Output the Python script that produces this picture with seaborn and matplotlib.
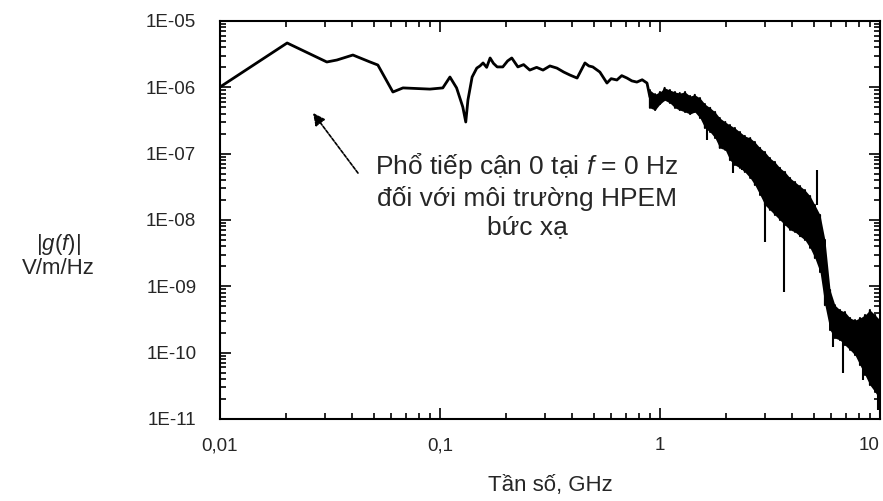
import numpy as np
import pandas as pd
import seaborn as sns
import matplotlib.pyplot as plt
from matplotlib.ticker import LogLocator, FixedLocator, NullFormatter

# smooth part of the spectrum (GHz, V/m/Hz)
smooth_f = [0.010, 0.0202, 0.0306, 0.0340, 0.0402, 0.0481, 0.0522, 0.0611, 0.0679, 0.0900,
            0.103, 0.111, 0.119, 0.127, 0.131, 0.134, 0.140, 0.147, 0.152, 0.157,
            0.163, 0.169, 0.175, 0.182, 0.193, 0.203, 0.212, 0.226, 0.240, 0.256,
            0.275, 0.294, 0.316, 0.340, 0.365, 0.390, 0.420, 0.456, 0.475, 0.495,
            0.533, 0.574, 0.600, 0.637, 0.670, 0.708, 0.745, 0.785, 0.830, 0.873, 0.900]
smooth_mag = [1.01e-6, 4.66e-6, 2.41e-6, 2.58e-6, 3.07e-6, 2.41e-6, 2.17e-6, 8.5e-7, 9.8e-7, 9.4e-7,
              9.8e-7, 1.43e-6, 9.8e-7, 5.05e-7, 3.0e-7, 6.44e-7, 1.43e-6, 1.95e-6, 2.1e-6, 2.33e-6,
              2.0e-6, 2.77e-6, 2.3e-6, 2.03e-6, 2.03e-6, 2.5e-6, 2.77e-6, 2.03e-6, 2.2e-6, 1.82e-6,
              2.0e-6, 1.82e-6, 2.1e-6, 1.95e-6, 1.7e-6, 1.53e-6, 1.38e-6, 2.33e-6, 2.1e-6, 2.03e-6,
              1.70e-6, 1.16e-6, 1.35e-6, 1.29e-6, 1.5e-6, 1.38e-6, 1.25e-6, 1.20e-6, 1.3e-6, 1.16e-6, 7.15e-7]

# noisy part above ~1 GHz: upper / lower edge of the band
noise_f = [0.90, 0.95, 1.00, 1.05, 1.11, 1.17, 1.23, 1.30, 1.37, 1.44,
           1.52, 1.60, 1.69, 1.78, 1.87, 1.98, 2.08, 2.19, 2.31, 2.43,
           2.57, 2.70, 2.85, 3.00, 3.16, 3.33, 3.51, 3.70, 3.90, 4.11,
           4.33, 4.56, 4.81, 5.06, 5.34, 5.62, 5.93, 6.24, 6.58, 6.93,
           7.31, 7.70, 8.11, 8.55, 9.00, 9.50, 10.0]
noise_hi = [9.1e-7, 7.9e-7, 8.5e-7, 9.8e-7, 9.1e-7, 8.5e-7, 8.2e-7, 8.5e-7, 7.4e-7, 7.7e-7,
            6.9e-7, 5.6e-7, 4.9e-7, 4.25e-7, 3.45e-7, 3.0e-7, 2.7e-7, 2.44e-7, 2.12e-7, 1.85e-7,
            1.72e-7, 1.50e-7, 1.22e-7, 1.06e-7, 8.6e-8, 7.5e-8, 6.1e-8, 5.3e-8, 4.3e-8, 3.74e-8,
            3.25e-8, 2.83e-8, 2.30e-8, 1.68e-8, 1.19e-8, 5.0e-9, 8.8e-10, 5.2e-10, 4.4e-10, 4.1e-10,
            3.33e-10, 3.1e-10, 3.33e-10, 3.7e-10, 4.4e-10, 3.7e-10, 3.1e-10]
noise_lo = [4.9e-7, 4.55e-7, 5.6e-7, 6.4e-7, 5.8e-7, 4.9e-7, 4.55e-7, 4.25e-7, 3.96e-7, 4.25e-7,
            3.45e-7, 2.44e-7, 2.12e-7, 1.72e-7, 1.22e-7, 1.14e-7, 8.0e-8, 6.75e-8, 6.1e-8, 5.3e-8,
            4.3e-8, 3.37e-8, 2.38e-8, 1.68e-8, 1.42e-8, 1.19e-8, 1.0e-8, 8.4e-9, 7.1e-9, 6.6e-9,
            5.7e-9, 5.0e-9, 3.8e-9, 2.67e-9, 1.64e-9, 5.2e-10, 2.19e-10, 1.66e-10, 1.55e-10, 1.30e-10,
            1.10e-10, 9.2e-11, 6.5e-11, 4.6e-11, 3.25e-11, 2.55e-11, 1.93e-11]

# single spikes sticking out of the band
spike_f = [1.64, 2.15, 2.36, 3.00, 3.66, 5.17, 6.12, 6.79, 8.37, 9.79]
spike_top = [2.7e-7, 1.0e-7, 8.0e-8, 2.0e-8, 1.4e-8, 5.7e-8, 2.2e-10, 1.55e-10, 1.1e-10, 3.9e-11]
spike_bot = [1.61e-7, 5.1e-8, 5.7e-8, 4.66e-9, 8.2e-10, 1.68e-8, 1.22e-10, 4.9e-11, 3.9e-11, 1.36e-11]

xticks = [0.01, 0.1, 1, 10]
xticklabels = ["0,01", "0,1", "1", "10"]
yticks = [1e-11, 1e-10, 1e-9, 1e-8, 1e-7, 1e-6, 1e-5]
yticklabels = ["1E-11", "1E-10", "1E-09", "1E-08", "1E-07", "1E-06", "1E-05"]

sns.set_style("ticks")
plt.rcParams["font.family"] = ["Liberation Sans", "DejaVu Sans"]
plt.rcParams["mathtext.fontset"] = "custom"
plt.rcParams["mathtext.it"] = "Liberation Sans:italic"
plt.rcParams["mathtext.rm"] = "Liberation Sans"

fig = plt.figure(figsize=(8.83, 5.01), dpi=100)
ax = fig.add_axes([0.2491, 0.1637, 0.7475, 0.7944])

df = pd.DataFrame({"f": smooth_f, "g": smooth_mag})
sns.lineplot(data=df, x="f", y="g", ax=ax, color="black", lw=2,
             estimator=None, sort=False)

# zig-zag through the band edges
zz_f, zz_g = [], []
for f, hi, lo in zip(noise_f, noise_hi, noise_lo):
    zz_f += [f, f]
    zz_g += [hi, lo]
sns.lineplot(x=zz_f, y=zz_g, ax=ax, color="black", lw=1.5,
             estimator=None, sort=False)
ax.fill_between(noise_f, noise_lo, noise_hi, color="black", lw=0)
ax.vlines(spike_f, spike_bot, spike_top, color="black", lw=1.5)

ax.set_xscale("log")
ax.set_yscale("log")
ax.set_xlim(0.01, 10)
ax.set_ylim(1e-11, 1e-5)

ax.xaxis.set_major_locator(FixedLocator(xticks))
ax.set_xticklabels(xticklabels)
ax.get_xticklabels()[-1].set_horizontalalignment("right")
ax.xaxis.set_minor_locator(LogLocator(base=10, subs=range(2, 10), numticks=20))
ax.xaxis.set_minor_formatter(NullFormatter())
ax.yaxis.set_major_locator(FixedLocator(yticks))
ax.set_yticklabels(yticklabels)
ax.yaxis.set_minor_locator(LogLocator(base=10, subs=range(2, 10), numticks=20))
ax.yaxis.set_minor_formatter(NullFormatter())

ax.tick_params(which="both", direction="in", top=True, right=True, width=1.2, color="black")
ax.tick_params(which="major", length=8, labelsize=13.5)
ax.tick_params(which="minor", length=4)
ax.tick_params(axis="y", which="major", pad=17)
ax.tick_params(axis="x", which="major", pad=13)
for s in ax.spines.values():
    s.set_linewidth(1.5)
    s.set_color("black")

ax.set_xlabel("Tần số, GHz", fontsize=16, labelpad=15)
ax.set_ylabel("")
fig.text(0.066, 0.49, "|$\\mathit{g}$($\\mathit{f}$)|\nV/m/Hz", fontsize=16,
         ha="center", va="center", multialignment="center", linespacing=1.1)

ax.text(0.2486, 2.38e-8,
        "Phổ tiếp cận 0 tại $\\mathit{f}$ = 0 Hz\nđối với môi trường HPEM\nbức xạ",
        fontsize=19, ha="center", va="center", multialignment="center", linespacing=1.25)
ax.annotate("", xy=(0.0265, 4.1e-7), xytext=(0.0424, 5.1e-8),
            arrowprops=dict(arrowstyle="-|>", color="black", lw=1.2,
                            linestyle=(0, (2, 1)), mutation_scale=18, shrinkA=0, shrinkB=0))

fig.savefig("out.png", dpi=100)
